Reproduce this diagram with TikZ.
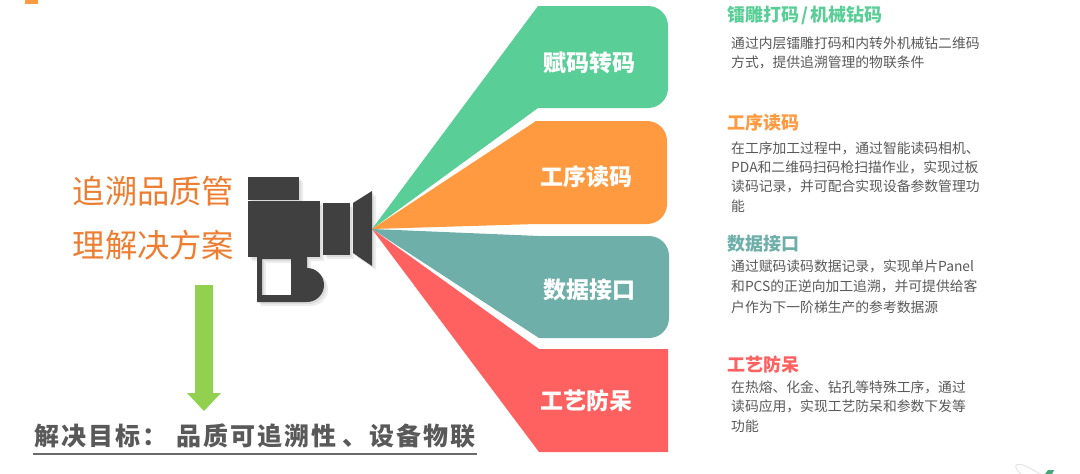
\documentclass[tikz,border=0pt]{standalone}
\usepackage{fontspec}
\setmainfont{Noto Sans CJK SC}
\definecolor{cgreen}{HTML}{59CF97}
\definecolor{corange}{HTML}{FF9A40}
\definecolor{cteal}{HTML}{6FAFA9}
\definecolor{cred}{HTML}{FF6060}
\definecolor{cdark}{HTML}{404040}
\definecolor{ctext}{HTML}{595959}
\definecolor{ctitle}{HTML}{ED7D31}
\definecolor{carrow}{HTML}{92D14F}
\newcommand{\fs}[1]{\fontsize{#1}{#1}\selectfont}
\newcommand{\camoutline}{(248,177) -- (299,177) -- (299,201) -- (320,201) -- (320,257) -- (307,257) -- (307,268) arc[start angle=-90,end angle=90,radius=17] -- (257,302) -- (257,257) -- (248,257) -- cycle (262,259) rectangle (291,295) (323,203) rectangle (350,255) (353,203) -- (372,191) -- (372,266) -- (353,253) -- cycle}
\tikzset{
  x=1pt,y=-1pt,
  blade/.style={fill=#1,draw=none},
  bladelabel/.style={text=white,font=\fs{23}\bfseries,inner sep=0pt,anchor=center},
  headtitle/.style={text=#1,font=\fs{18}\bfseries,inner sep=0pt,anchor=west},
  bodytext/.style={text=ctext,font=\fontsize{13.8}{#1}\selectfont,inner sep=0pt,anchor=north west,align=left,text width=270pt},
  cam/.style={fill=cdark,draw=none},
  camshadow/.style={fill=black,opacity=0.07,draw=none,even odd rule},
  maintitle/.style={text=ctitle,font=\fs{32.3},inner sep=0pt,anchor=center}
}
\begin{document}
\begin{tikzpicture}
\useasboundingbox (0,0) rectangle (1080,474);
\fill[white] (0,0) rectangle (1080,474);
% corner mark
\fill[corange] (25,0) rectangle (38,4);
% faint decoration
\draw[black!10,line width=1pt] (1040,474) .. controls (1030,468) and (1020,462) .. (1016,465) .. controls (1015,468) and (1018,472) .. (1021,474);
\fill[cgreen!80!black] (1045,474) -- (1048,470) -- (1054,470) -- (1052,474) -- cycle;
% camera shadow
\fill[camshadow,shift={(2,2)}] \camoutline;
\fill[camshadow,shift={(4,4)}] \camoutline;
% blades
\coordinate (apex) at (372,229);
\fill[blade=cgreen] (apex) -- (538,6) -- (648,6) arc[start angle=-90,end angle=0,radius=20] -- (668,88) arc[start angle=0,end angle=90,radius=20] -- (538,108) -- cycle;
\fill[blade=corange] (apex) -- (536,121) -- (647,121) arc[start angle=-90,end angle=0,radius=20] -- (667,204) arc[start angle=0,end angle=90,radius=20] -- (536,224) -- cycle;
\fill[blade=cteal] (apex) -- (539,236) -- (649,236) arc[start angle=-90,end angle=0,radius=20] -- (669,318) arc[start angle=0,end angle=90,radius=20] -- (539,338) -- cycle;
\fill[blade=cred] (apex) -- (539,349) -- (668,349) -- (668,452) -- (539,452) -- cycle;
\node[bladelabel] (b1) at (589.5,63) {赋码转码};
\node[bladelabel] (b2) at (586.5,177) {工序读码};
\node[bladelabel] (b3) at (589.5,290) {数据接口};
\node[bladelabel] (b4) at (586.5,401) {工艺防呆};
% camera
\fill[cam] (248,177) rectangle (299,200);
\fill[cam] (248,201) rectangle (320,257);
\fill[cam] (323,203) rectangle (350,255);
\fill[cam] (353,203) -- (372,191) -- (372,266) -- (353,253) -- cycle;
\fill[cam,even odd rule] (257,257) -- (307,257) -- (307,302) -- (257,302) -- cycle (262,259) rectangle (291,295);
\fill[cam] (307,268) arc[start angle=-90,end angle=90,radius=17] -- cycle;
% left title
\node[maintitle] (t1) at (153.5,191) {追溯品质管};
\node[maintitle] (t2) at (153.5,245) {理解决方案};
% green arrow
\fill[carrow] (195,285) -- (213,285) -- (213,393) -- (221,393) -- (204,411) -- (187,393) -- (195,393) -- cycle;
% goal
\node[inner sep=0pt,anchor=west,text=ctext,font=\fs{25}\bfseries\addfontfeature{LetterSpace=8}] (goal) at (34,436) {解决目标：\hspace{9pt}品质可追溯性\hspace{6.5pt}、设备物联};
\draw[color=ctext!90,line width=2pt] (33,454) -- (477,454);
% right column
\node[headtitle=cgreen] (h1) at (727,15) {镭雕打码\hspace{2pt}/\hspace{2pt}机械钻码};
\node[bodytext=19] (d1) at (731,36.5) {通过内层镭雕打码和内转外机械钻二维码\\方式，提供追溯管理的物联条件};
\node[headtitle=corange] (h2) at (727,123) {工序读码};
\node[bodytext=19.3] (d2) at (731,141.5) {在工序加工过程中，通过智能读码相机、\\PDA和二维码扫码枪扫描作业，实现过板\\读码记录，并可配合实现设备参数管理功\\能};
\node[headtitle=cteal] (h3) at (727,244) {数据接口};
\node[bodytext=20.5] (d3) at (731,259.5) {通过赋码读码数据记录，实现单片Panel\\和PCS的正逆向加工追溯，并可提供给客\\户作为下一阶梯生产的参考数据源};
\node[headtitle=cred] (h4) at (727,365) {工艺防呆};
\node[bodytext=19.5] (d4) at (731,380.5) {在热熔、化金、钻孔等特殊工序，通过\\读码应用，实现工艺防呆和参数下发等\\功能};
\end{tikzpicture}
\end{document}
